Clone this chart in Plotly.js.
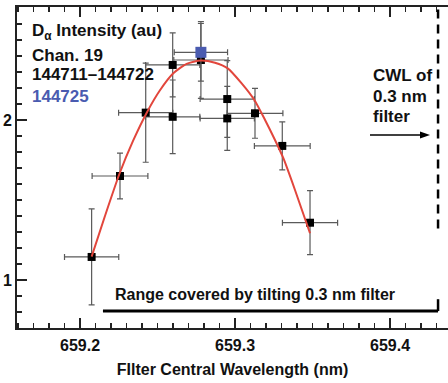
<!DOCTYPE html>
<html>
<head>
<meta charset="utf-8">
<script src="https://cdn.plot.ly/plotly-3.0.1.min.js"></script>
<style>html,body{margin:0;padding:0;background:#fff;}#chart{width:448px;height:383px;}</style>
</head>
<body>
<div id="chart"></div>
<script>
// Shots 144711-144722 (black)
const wavelength = [659.2075, 659.2258, 659.2424, 659.2598, 659.2598, 659.2780, 659.2950, 659.2950, 659.3129, 659.3305, 659.3484];
const intensity  = [1.144, 1.650, 2.046, 2.344, 2.020, 2.375, 2.131, 2.010, 2.042, 1.838, 1.358];
const wlErr      = [0.0175, 0.0180, 0.0175, 0.0175, 0.0175, 0.0175, 0.0175, 0.0175, 0.0180, 0.0180, 0.0178];
const intErr     = [0.30, 0.143, 0.31, 0.20, 0.23, 0.24, 0.24, 0.20, 0.156, 0.15, 0.20];
// Shot 144725 (blue)
const blueWl = [659.2780];
const blueInt = [2.423];
const blueWlErr = [0.0172];
const blueIntErr = [0.18];
// Fitted curve (red)
const fitWl  = [659.2075, 659.2161, 659.2254, 659.2342, 659.2434, 659.2516, 659.2602, 659.2688, 659.2779, 659.2871, 659.2953, 659.3043, 659.3125, 659.3194, 659.3258, 659.3312, 659.3387, 659.3484];
const fitInt = [1.146, 1.400, 1.6625, 1.869, 2.052, 2.186, 2.292, 2.351, 2.372, 2.358, 2.323, 2.229, 2.125, 2.000, 1.875, 1.761, 1.5625, 1.292];
// Annotation positions (data units)
const rangeStart = 659.2148;
const cwl = 659.431;
const rangeLevel = 0.806;

const FONT = 'Liberation Sans, Arial, sans-serif';
const ERRC = '#5a5a5a';

const traces = [
  {
    x: wavelength, y: intensity, type: 'scatter', mode: 'markers',
    marker: {symbol: 'square', size: 8, color: '#000'},
    error_x: {type: 'data', array: wlErr, visible: true, color: ERRC, thickness: 1.2, width: 3},
    error_y: {type: 'data', array: intErr, visible: true, color: ERRC, thickness: 1.2, width: 3},
    showlegend: false, hoverinfo: 'x+y'
  },
  {
    x: blueWl, y: blueInt, type: 'scatter', mode: 'markers',
    marker: {symbol: 'square', size: 0.1, color: '#4a5bb0'},
    error_x: {type: 'data', array: blueWlErr, visible: true, color: ERRC, thickness: 1.2, width: 3},
    error_y: {type: 'data', array: blueIntErr, visible: true, color: ERRC, thickness: 1.2, width: 3},
    showlegend: false, hoverinfo: 'skip'
  },
  {
    x: fitWl, y: fitInt, type: 'scatter', mode: 'lines',
    line: {color: '#e2463c', width: 2, shape: 'spline', smoothing: 0.6},
    showlegend: false, hoverinfo: 'skip'
  },
  {
    x: blueWl, y: blueInt, type: 'scatter', mode: 'markers',
    marker: {symbol: 'square', size: 11, color: '#4a5bb0'},
    showlegend: false, hoverinfo: 'x+y'
  }
];

const tickFont = {family: FONT, size: 16, color: '#111', weight: 'bold'};

const layout = {
  width: 448, height: 383,
  margin: {l: 17, r: 0, t: 7, b: 55},
  paper_bgcolor: '#fff', plot_bgcolor: '#fff',
  font: {family: FONT, color: '#111'},
  xaxis: {
    range: [659.15935, 659.43742], tick0: 659.2, dtick: 0.1, tickformat: '.1f',
    ticks: 'inside', ticklen: 10, tickwidth: 1.2, tickcolor: '#222',
    minor: {dtick: 0.01, ticks: 'inside', ticklen: 5, tickwidth: 1.2, tickcolor: '#222'},
    showline: true, linecolor: '#222', linewidth: 2, mirror: 'allticks',
    showgrid: false, zeroline: false,
    tickfont: tickFont, ticklabelstandoff: 2,
    title: {text: 'FIlter Central Wavelength (nm)', font: {family: FONT, size: 16, color: '#111', weight: 'bold'}, standoff: 11}
  },
  yaxis: {
    range: [0.7, 2.70625], tick0: 0, dtick: 1,
    ticks: 'inside', ticklen: 10, tickwidth: 1.2, tickcolor: '#222',
    minor: {dtick: 0.1, ticks: 'inside', ticklen: 5, tickwidth: 1.2, tickcolor: '#222'},
    showline: true, linecolor: '#222', linewidth: 2, mirror: false,
    showgrid: false, zeroline: false,
    tickfont: tickFont
  },
  shapes: [
    {type: 'line', xref: 'x', yref: 'y', x0: rangeStart, x1: cwl, y0: rangeLevel, y1: rangeLevel, line: {color: '#000', width: 3}},
    {type: 'line', xref: 'x', yref: 'y', x0: cwl, x1: cwl, y0: rangeLevel, y1: 0.88, line: {color: '#000', width: 2.5}},
    {type: 'line', xref: 'x', yref: 'paper', x0: cwl, x1: cwl, y0: 0.31, y1: 1, line: {color: '#000', width: 2.5, dash: '9px,6px'}},
    {type: 'line', xref: 'paper', yref: 'paper', x0: 0.819, x1: 0.945, y0: 0.6012, y1: 0.6012, line: {color: '#000', width: 1.5}},
    {type: 'path', xref: 'paper', yref: 'paper', path: 'M 0.9582 0.6012 L 0.9351 0.6121 L 0.9351 0.5903 Z', fillcolor: '#000', line: {width: 0}}
  ],
  annotations: [
    {xref: 'paper', yref: 'paper', x: 0.030, y: 0.922, xanchor: 'left', yanchor: 'middle', showarrow: false,
     text: 'D<sub>α</sub> Intensity (au)', font: {family: FONT, size: 17, color: '#111', weight: 'bold'}},
    {xref: 'paper', yref: 'paper', x: 0.030, y: 0.850, xanchor: 'left', yanchor: 'middle', showarrow: false,
     text: 'Chan. 19', font: {family: FONT, size: 17, color: '#111', weight: 'bold'}},
    {xref: 'paper', yref: 'paper', x: 0.030, y: 0.791, xanchor: 'left', yanchor: 'middle', showarrow: false,
     text: '144711–144722', font: {family: FONT, size: 17, color: '#111', weight: 'bold'}},
    {xref: 'paper', yref: 'paper', x: 0.030, y: 0.720, xanchor: 'left', yanchor: 'middle', showarrow: false,
     text: '144725', font: {family: FONT, size: 17, color: '#4a5bb0', weight: 'bold'}},
    {xref: 'paper', yref: 'paper', x: 0.821, y: 0.788, xanchor: 'left', yanchor: 'middle', showarrow: false,
     text: 'CWL of', font: {family: FONT, size: 17, color: '#111', weight: 'bold'}},
    {xref: 'paper', yref: 'paper', x: 0.821, y: 0.721, xanchor: 'left', yanchor: 'middle', showarrow: false,
     text: '0.3 nm', font: {family: FONT, size: 17, color: '#111', weight: 'bold'}},
    {xref: 'paper', yref: 'paper', x: 0.821, y: 0.658, xanchor: 'left', yanchor: 'middle', showarrow: false,
     text: 'filter', font: {family: FONT, size: 17, color: '#111', weight: 'bold'}},
    {xref: 'paper', yref: 'paper', x: 0.552, y: 0.103, xanchor: 'center', yanchor: 'middle', showarrow: false,
     text: 'Range covered by tilting 0.3 nm filter', font: {family: FONT, size: 16, color: '#111', weight: 'bold'}}
  ]
};

Plotly.newPlot('chart', traces, layout, {staticPlot: true, displayModeBar: false});
</script>
</body>
</html>
